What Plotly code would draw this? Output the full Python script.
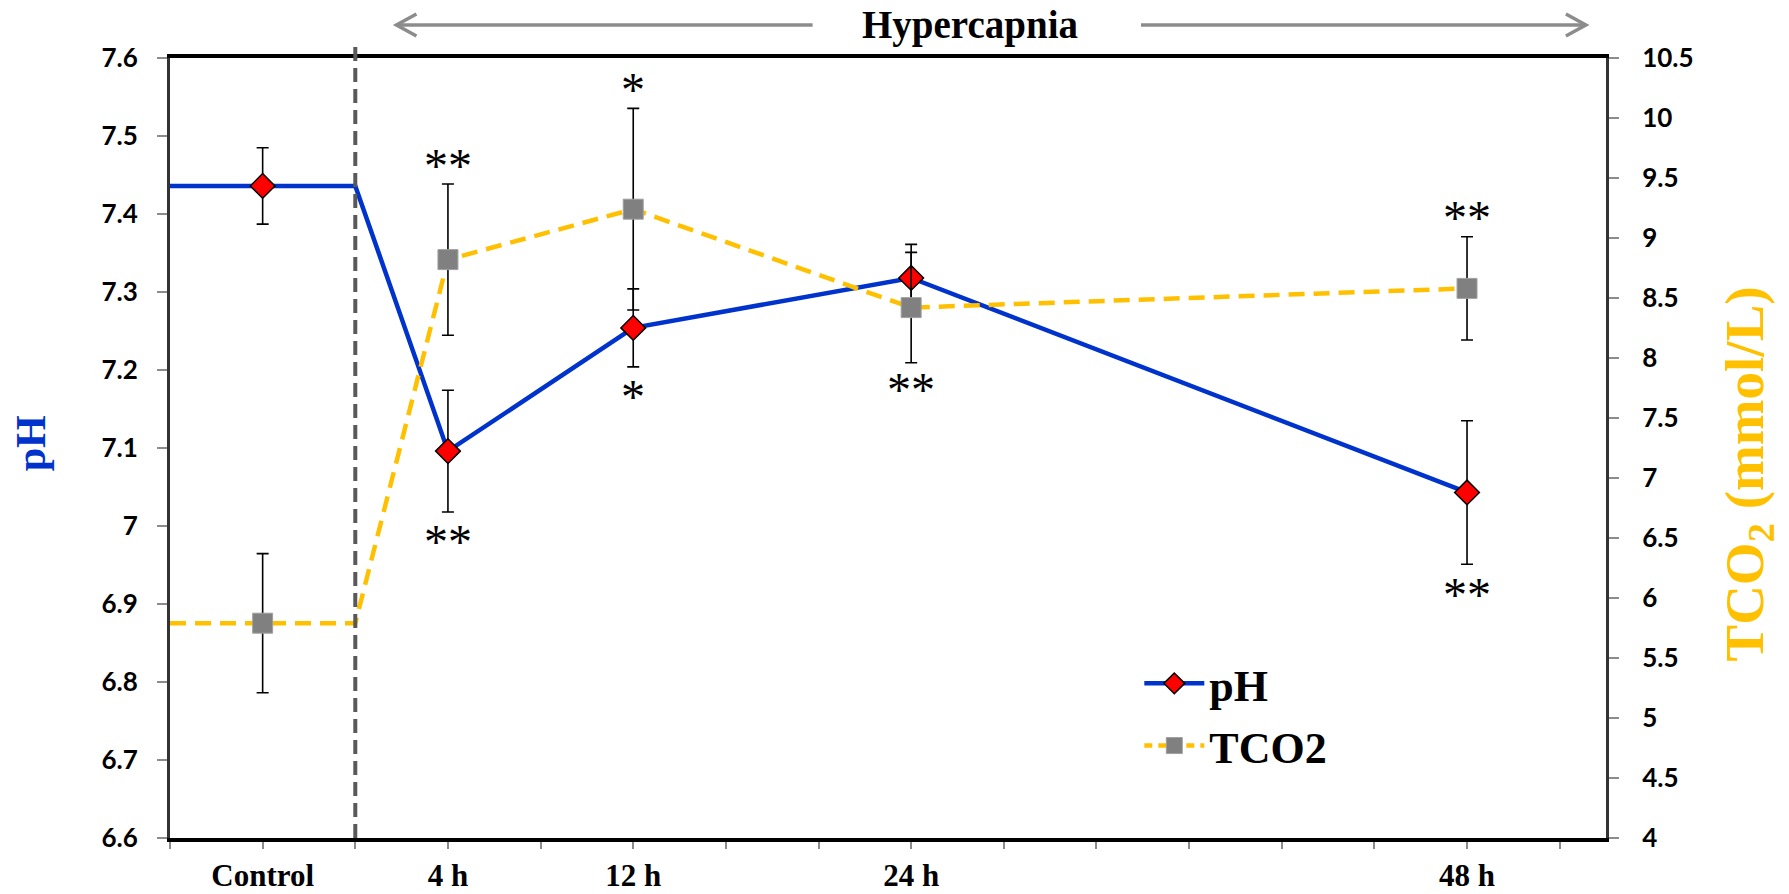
import plotly.graph_objects as go

# ---- data ----
categories = ["Control", "4 h", "12 h", "24 h", "48 h"]
x_pos = [1, 3, 5, 8, 14]                 # category positions on the time axis
control_span = [0, 2]                    # control period drawn as flat segment
ph = [7.436, 7.096, 7.254, 7.318, 7.043]
ph_sd = [0.049, 0.078, 0.050, 0.043, 0.092]
tco2 = [5.79, 8.82, 9.24, 8.42, 8.58]
tco2_sd = [0.58, 0.63, 0.84, 0.46, 0.43]
ph_sig = ["", "**", "*", "", "**"]       # drawn below pH error bar
tco2_sig = ["", "**", "*", "**", "**"]
tco2_sig_side = ["", "above", "above", "below", "above"]

BLUE = "#0033CC"
GOLD = "#FFC000"
GREY_MK = "#808080"
SERIF = "Liberation Serif"
SANS = "Lato"

fig = go.Figure()

fig.add_trace(go.Scatter(
    x=control_span + x_pos[1:], y=[ph[0], ph[0]] + ph[1:],
    mode="lines", line=dict(color=BLUE, width=4.5), showlegend=False,
    hoverinfo="skip", yaxis="y"))
fig.add_trace(go.Scatter(
    x=x_pos, y=ph, mode="markers", showlegend=False, yaxis="y",
    marker=dict(symbol="diamond", size=19, color="#FF0000",
                line=dict(color="black", width=1.5)),
    error_y=dict(type="data", array=ph_sd, color="black", thickness=1.6, width=6)))

fig.add_trace(go.Scatter(
    x=control_span + x_pos[1:], y=[tco2[0], tco2[0]] + tco2[1:],
    mode="lines", line=dict(color=GOLD, width=4.5, dash="16px,9px"),
    showlegend=False, hoverinfo="skip", yaxis="y2"))
fig.add_trace(go.Scatter(
    x=x_pos, y=tco2, mode="markers", showlegend=False, yaxis="y2",
    marker=dict(symbol="square", size=20, color=GREY_MK,
                line=dict(color="#a0a0a0", width=1)),
    error_y=dict(type="data", array=tco2_sd, color="black", thickness=1.6, width=6)))

# legend entries
fig.add_trace(go.Scatter(
    x=[None], y=[None], mode="lines+markers", name="pH", legendgroup="a",
    line=dict(color=BLUE, width=4.5),
    marker=dict(symbol="diamond", size=19, color="#FF0000",
                line=dict(color="black", width=1.5))))
fig.add_trace(go.Scatter(
    x=[None], y=[None], mode="lines+markers", name="TCO2", legendgroup="b",
    line=dict(color=GOLD, width=4.5, dash="8px,6px"),
    marker=dict(symbol="square", size=20, color=GREY_MK,
                line=dict(color="#a0a0a0", width=1))))

annotations = []
star_font = dict(family=SERIF, size=48, color="black")
for i in range(len(x_pos)):
    if ph_sig[i]:
        annotations.append(dict(
            x=x_pos[i], y=ph[i] - ph_sd[i], xref="x", yref="y",
            text=ph_sig[i], showarrow=False, font=star_font,
            xanchor="center", yanchor="middle", yshift=-30))
    if tco2_sig[i]:
        if tco2_sig_side[i] == "above":
            yv, ys = tco2[i] + tco2_sd[i], 19
        else:
            yv, ys = tco2[i] - tco2_sd[i], -27
        annotations.append(dict(
            x=x_pos[i], y=yv, xref="x", yref="y2",
            text=tco2_sig[i], showarrow=False, font=star_font,
            xanchor="center", yanchor="middle", yshift=ys))

annotations.append(dict(
    x=-0.0968, y=0.506, xref="paper", yref="paper", text="pH",
    textangle=-90, showarrow=False, xanchor="center", yanchor="middle",
    font=dict(family=SERIF, size=42, color=BLUE, weight="bold")))
annotations.append(dict(
    x=1.0989, y=0.466, xref="paper", yref="paper",
    text="TCO<sub>2</sub> (mmol/L)", textangle=-90, showarrow=False,
    xanchor="center", yanchor="middle",
    font=dict(family=SERIF, size=55, color=GOLD, weight="bold")))
annotations.append(dict(
    x=0.557, y=1.0423, xref="paper", yref="paper", text="Hypercapnia",
    showarrow=False, xanchor="center", yanchor="middle",
    font=dict(family=SERIF, size=39, color="black", weight="bold")))

ARROW = "#8c8c8c"
AY = 1.0423
shapes = [
    dict(type="line", xref="x", yref="paper", x0=control_span[1], x1=control_span[1],
         y0=0, y1=1.0167, line=dict(color="#595959", width=4, dash="14px,7px"),
         layer="above"),
    dict(type="line", xref="paper", yref="paper", x0=0.1577, x1=0.4475,
         y0=AY, y1=AY, line=dict(color=ARROW, width=3.5)),
    dict(type="line", xref="paper", yref="paper", x0=0.6762, x1=0.9860,
         y0=AY, y1=AY, line=dict(color=ARROW, width=3.5)),
    dict(type="path", xref="paper", yref="paper", xsizemode="pixel",
         ysizemode="pixel", xanchor=0.1577, yanchor=AY,
         path="M 20,11 L 0,0 L 20,-11", line=dict(color=ARROW, width=3.5)),
    dict(type="path", xref="paper", yref="paper", xsizemode="pixel",
         ysizemode="pixel", xanchor=0.9860, yanchor=AY,
         path="M -20,11 L 0,0 L -20,-11", line=dict(color=ARROW, width=3.5)),
]

fig.update_layout(
    width=1789, height=894,
    margin=dict(l=170, r=183, t=58, b=56, autoexpand=False),
    paper_bgcolor="white", plot_bgcolor="white",
    showlegend=True,
    legend=dict(x=0.675, y=0.158, xanchor="left", yanchor="middle",
                bgcolor="rgba(0,0,0,0)", itemwidth=60, tracegroupgap=2,
                font=dict(family=SERIF, size=44, color="black", weight="bold")),
    xaxis=dict(range=[0, 15.5], tickmode="array", tickvals=x_pos,
               ticktext=categories, showgrid=False, zeroline=False,
               showline=True, linecolor="black", linewidth=3.5, mirror=True,
               ticks="outside", ticklen=7, tickwidth=2, tickcolor="#8c8c8c",
               minor=dict(ticks="outside", ticklen=7, tickwidth=2,
                          tickcolor="#8c8c8c", tick0=0, dtick=1, showgrid=False),
               ticklabelstandoff=0, automargin=False,
               tickfont=dict(family=SERIF, size=31, color="black", weight="bold")),
    yaxis=dict(range=[6.6, 7.6], dtick=0.1, tick0=6.6, showgrid=False,
               zeroline=False, showline=True, linecolor="#333333", linewidth=3,
               ticks="outside", ticklen=10, tickwidth=2, tickcolor="#8c8c8c",
               ticklabelstandoff=14, automargin=False,
               tickfont=dict(family=SANS, size=26, color="black", weight="bold")),
    yaxis2=dict(range=[4, 10.5], dtick=0.5, tick0=4, overlaying="y",
                side="right", showgrid=False, zeroline=False, showline=True,
                linecolor="#333333", linewidth=3, ticks="outside", ticklen=10,
                tickwidth=2, tickcolor="#8c8c8c", ticklabelstandoff=18,
                automargin=False,
                tickfont=dict(family=SANS, size=26, color="black", weight="bold")),
    annotations=annotations,
    shapes=shapes,
)

fig.write_html("out.html")
